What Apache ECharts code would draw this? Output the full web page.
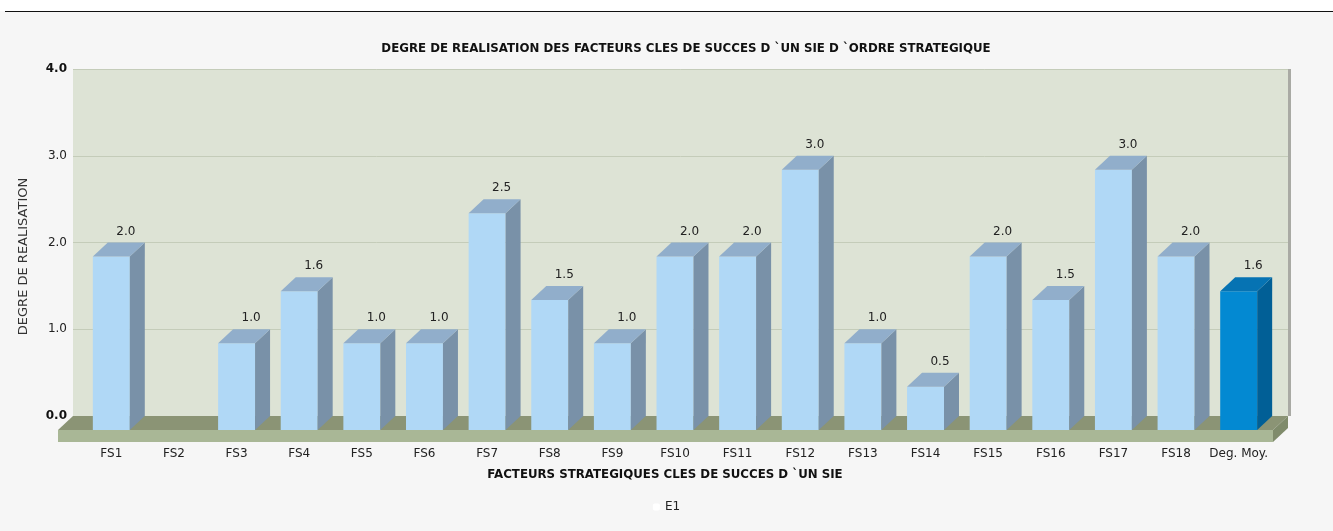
<!DOCTYPE html>
<html>
<head>
<meta charset="utf-8">
<script src="https://cdn.jsdelivr.net/npm/echarts@6/dist/echarts.min.js"></script>
<style>
  html, body { margin: 0; padding: 0; background: #f6f6f6; }
  #chart { width: 1333px; height: 531px; }
</style>
</head>
<body>
<div id="chart"></div>
<script>
// facteurs strategiques + degre moyen
const categories = ["FS1", "FS2", "FS3", "FS4", "FS5", "FS6", "FS7", "FS8", "FS9", "FS10",
  "FS11", "FS12", "FS13", "FS14", "FS15", "FS16", "FS17", "FS18", "Deg. Moy."];
const valeurs = [2.0, 0, 1.0, 1.6, 1.0, 1.0, 2.5, 1.5, 1.0, 2.0,
  2.0, 3.0, 1.0, 0.5, 2.0, 1.5, 3.0, 2.0, 1.6];
const yTicks = [0, 1, 2, 3, 4];

const DX = 15; // profondeur 3D horizontale
const DY = 14; // profondeur 3D verticale
const fontFam = "DejaVu Sans";

const couleursFS = { front: "#b0d8f6", side: "#7991a8", top: "#91aecb" };
const couleursMoy = { front: "#0389d2", side: "#015f96", top: "#0673b3" };

const chart = echarts.init(document.getElementById("chart"));

// sol + ombre du mur, dessine a partir du repere arriere
const renderSol = (params, api) => {
  const cs = params.coordSys;
  const y0 = api.coord([0, 0])[1];
  const x0 = cs.x, x1 = cs.x + cs.width;
  const ep = 12;
  return {
    type: "group",
    children: [
      { type: "rect", shape: { x: x1, y: cs.y, width: 3, height: y0 - cs.y }, style: { fill: "#a9aaa4" } },
      { type: "polygon", shape: { points: [[x0, y0], [x1, y0], [x1 - DX, y0 + DY], [x0 - DX, y0 + DY]] }, style: { fill: "#8b9475" } },
      { type: "rect", shape: { x: x0 - DX, y: y0 + DY, width: x1 - x0, height: ep }, style: { fill: "#a9b796" } },
      { type: "polygon", shape: { points: [[x1, y0], [x1, y0 + ep], [x1 - DX, y0 + DY + ep], [x1 - DX, y0 + DY]] }, style: { fill: "#7f8b6b" } }
    ]
  };
};

const renderBarre = (params, api) => {
  const idx = api.value(0);
  const v = api.value(1);
  if (!v) return { type: "group", children: [] };
  const haut = api.coord([idx, v]);
  const bas = api.coord([idx, 0]);
  const bw = api.size([1, 0])[0] * 0.59;
  const xa = haut[0] - bw / 2, xb = haut[0] + bw / 2;
  const yt = haut[1], yb = bas[1];
  const c = idx === categories.length - 1 ? couleursMoy : couleursFS;
  return {
    type: "group",
    children: [
      { type: "rect", shape: { x: xa, y: yt, width: bw, height: yb - yt }, style: { fill: c.front } },
      { type: "polygon", shape: { points: [[xb, yt], [xb + DX, yt - DY], [xb + DX, yb - DY], [xb, yb]] }, style: { fill: c.side } },
      { type: "polygon", shape: { points: [[xa, yt], [xb, yt], [xb + DX, yt - DY], [xa + DX, yt - DY]] }, style: { fill: c.top } },
      {
        type: "text",
        x: haut[0] + DX / 2 + 7,
        y: yt - DY - 5,
        style: {
          text: v.toFixed(1), fill: "#222", font: "12px " + fontFam,
          textAlign: "center", textVerticalAlign: "bottom"
        }
      }
    ]
  };
};

const option = {
  backgroundColor: "#f6f6f6",
  animation: false,
  textStyle: { fontFamily: fontFam },
  graphic: [
    { type: "rect", left: 0, top: 0, shape: { width: 1333, height: 11 }, style: { fill: "#ffffff" } },
    { type: "rect", left: 5, top: 11, shape: { width: 1328, height: 1 }, style: { fill: "#111" } }
  ],
  title: {
    text: "DEGRE DE REALISATION DES FACTEURS CLES DE SUCCES D `UN SIE D `ORDRE STRATEGIQUE",
    left: 681, top: 38, textAlign: "center",
    textStyle: { fontFamily: fontFam, fontSize: 11.8, fontWeight: "bold", color: "#111" }
  },
  legend: {
    data: [{ name: "E1", itemStyle: { color: "#ffffff" } }],
    left: "center", top: 496, itemWidth: 7, itemHeight: 7, itemGap: 4,
    textStyle: { fontFamily: fontFam, fontSize: 12, color: "#222" }
  },
  grid: [
    { left: 73, right: 45, top: 69, bottom: 115, show: true, backgroundColor: "#dde3d5", borderWidth: 0 },
    { left: 80, right: 63, top: 83, bottom: 101 }
  ],
  xAxis: [
    { type: "category", gridIndex: 0, data: categories, show: false },
    {
      type: "category", gridIndex: 1, data: categories,
      axisLine: { show: false }, axisTick: { show: false },
      axisLabel: { margin: 18, color: "#222", fontSize: 12, fontFamily: fontFam, interval: 0 },
      name: "FACTEURS STRATEGIQUES CLES DE SUCCES D `UN SIE",
      nameLocation: "middle", nameGap: 39,
      nameTextStyle: { fontFamily: fontFam, fontWeight: "bold", fontSize: 11.8, color: "#111", padding: [0, 20, 0, 0] }
    }
  ],
  yAxis: [
    {
      type: "value", gridIndex: 0, min: yTicks[0], max: yTicks[yTicks.length - 1], interval: 1,
      axisLine: { show: false }, axisTick: { show: false },
      splitLine: { lineStyle: { color: "#c4ccb9", width: 1 } },
      axisLabel: {
        margin: 6, fontSize: 12, color: "#222", fontFamily: fontFam,
        formatter: (v) => (v === 0 || v === 4) ? "{b|" + v.toFixed(1) + "}" : v.toFixed(1),
        rich: { b: { fontWeight: "bold", fontSize: 12, color: "#111", fontFamily: fontFam } }
      }
    },
    {
      type: "value", gridIndex: 1, min: 0, max: 4,
      axisLine: { show: false }, axisTick: { show: false },
      axisLabel: { show: false }, splitLine: { show: false },
      name: "DEGRE DE REALISATION", nameLocation: "middle", nameGap: 50, nameRotate: 90,
      nameTextStyle: { fontFamily: fontFam, fontSize: 13, color: "#333" }
    }
  ],
  series: [
    {
      type: "custom", name: "sol", xAxisIndex: 0, yAxisIndex: 0, z: 1,
      renderItem: renderSol, data: [[0, 0]], silent: true
    },
    {
      type: "custom", name: "E1", xAxisIndex: 1, yAxisIndex: 1, z: 3,
      itemStyle: { color: "#ffffff" },
      renderItem: renderBarre,
      data: valeurs.map((v, i) => [i, v])
    }
  ]
};
chart.setOption(option);
</script>
</body>
</html>
